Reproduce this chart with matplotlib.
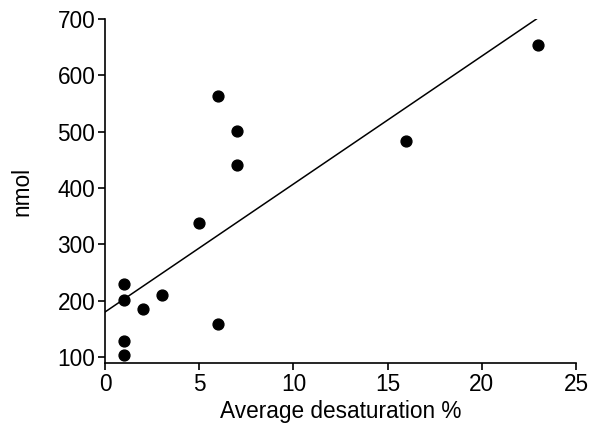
import matplotlib
matplotlib.use("Agg")
import matplotlib.pyplot as plt

desaturation = [1, 1, 1, 1, 2, 3, 5, 6, 6, 7, 7, 16, 23]
nmol = [230, 202, 129, 103, 186, 211, 338, 563, 158, 502, 441, 484, 654]
fit_x = [0, 22.9]
fit_y = [180, 700]
xticks = [0, 5, 10, 15, 20, 25]
yticks = [100, 200, 300, 400, 500, 600, 700]

plt.rcParams['font.family'] = ['Liberation Sans', 'DejaVu Sans']
fig = plt.figure(figsize=(6.01, 4.26), dpi=100)
ax = fig.add_axes([105/601, 1-363/426, (576-105)/601, (363-19)/426])

ax.plot(fit_x, fit_y, color='black', lw=1.1, zorder=2)
ax.plot(desaturation, nmol, 'o', color='black', markersize=7.8, zorder=3)

ax.set_xlim(0, 25)
ax.set_ylim(89.5, 700)
ax.set_xticks(xticks)
ax.set_yticks(yticks)
ax.spines['top'].set_visible(False)
ax.spines['right'].set_visible(False)
ax.spines['left'].set_bounds(89.5, 700)
for s in ['left', 'bottom']:
    ax.spines[s].set_linewidth(1.2)
ax.tick_params(axis='both', labelsize=16.3, length=5, width=1.2, pad=2)
ax.set_xlabel('Average desaturation %', fontsize=16.3, labelpad=3)
ax.set_ylabel('nmol', fontsize=16.3, labelpad=17)

fig.savefig('out.png', dpi=100)
